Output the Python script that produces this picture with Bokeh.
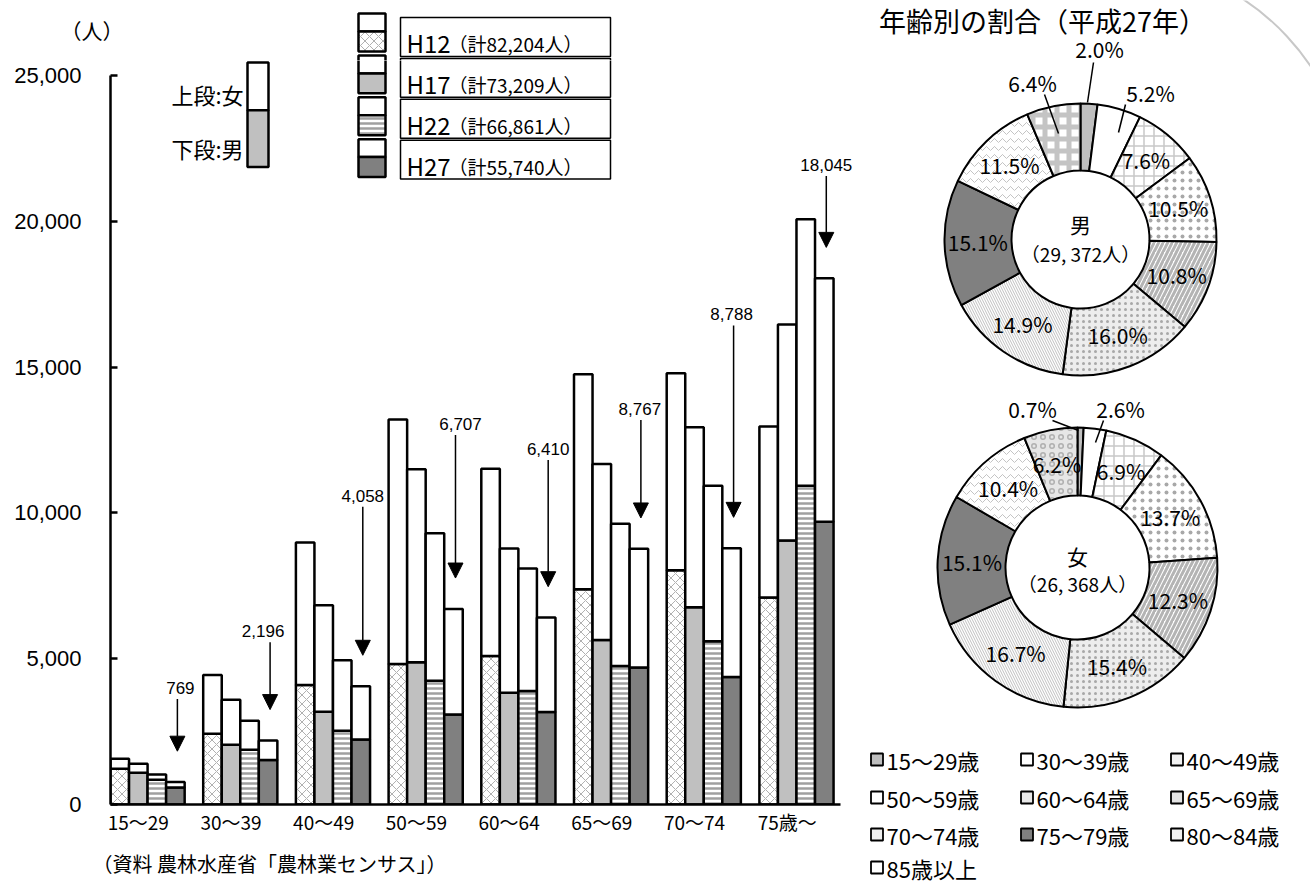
import math
from bokeh.plotting import figure
from bokeh.models import Range1d, FixedTicker, Arrow, NormalHead, NumeralTickFormatter, Title
from bokeh.layouts import row, column
from bokeh.core.properties import value
from bokeh.embed import file_html
from bokeh.resources import INLINE

# ---------------- data ----------------
groups = ["15～29", "30～39", "40～49", "50～59", "60～64", "65～69", "70～74", "75歳～"]
years = ["H12", "H17", "H22", "H27"]
year_totals = ["82,204", "73,209", "66,861", "55,740"]

h12_total = [1570, 4440, 8980, 13200, 11510, 14750, 14790, 12960]
h12_male = [1230, 2430, 4100, 4820, 5090, 7380, 8030, 7100]
h17_total = [1400, 3590, 6830, 11500, 8780, 11680, 12940, 16460]
h17_male = [1090, 2050, 3180, 4880, 3830, 5640, 6760, 9050]
h22_total = [1030, 2870, 4950, 9300, 8090, 9630, 10930, 20070]
h22_male = [850, 1880, 2530, 4240, 3890, 4750, 5600, 10930]
h27_total = [769, 2196, 4058, 6707, 6410, 8767, 8788, 18045]
h27_male = [587, 1527, 2232, 3084, 3172, 4700, 4376, 9693]

y_ticks = [0, 5000, 10000, 15000, 20000, 25000]
unit_label = "（人）"

ages = ["15～29歳", "30～39歳", "40～49歳", "50～59歳", "60～64歳",
        "65～69歳", "70～74歳", "75～79歳", "80～84歳", "85歳以上"]
male_pct = [2.0, 5.2, 7.6, 10.5, 10.8, 16.0, 14.9, 15.1, 11.5, 6.4]
female_pct = [0.7, 2.6, 6.9, 13.7, 12.3, 15.4, 16.7, 15.1, 10.4, 6.2]
male_center = ["男", "（29, 372人）"]
female_center = ["女", "（26, 368人）"]
source_text = "（資料 農林水産省「農林業センサス」）"

JP = "Noto Sans CJK JP"
LAT = "Liberation Sans"

# ---------------- geometry (page pixels) ----------------
PAGE_W, PAGE_H = 1310, 886
W1 = 858            # left block width
TOP_H = 60          # strip above the bar frame
OX, OY = 110, 807   # page position of the bar chart origin
GPX = 92.7          # pixels per group
PXV = 732 / 25000   # pixels per person


def dx(px):
    return (px - OX) / GPX


def dy(py):
    return (OY - py) / PXV


def ty(py):
    return -py


def plain(f):
    f.outline_line_color = None
    f.xgrid.visible = False
    f.ygrid.visible = False


# top strip: same horizontal frame as the bar chart
top = figure(width=W1, height=TOP_H, x_range=Range1d(0, dx(W1)), y_range=Range1d(-TOP_H, 0),
             output_backend="svg", toolbar_location=None, x_axis_location=None,
             min_border_left=OX, min_border_right=0, min_border_top=0, min_border_bottom=0)
plain(top)
ta = top.yaxis[0]
ta.ticker = FixedTicker(ticks=[ty(29)])
ta.major_label_overrides = {ty(29): unit_label}
ta.axis_line_color = None
ta.major_tick_in = 0
ta.major_tick_out = 0
ta.minor_tick_in = 0
ta.minor_tick_out = 0
ta.major_label_text_font = JP
ta.major_label_text_font_size = "21px"
ta.major_label_text_color = "black"
ta.major_label_standoff = -13

# ---------------- bar chart ----------------
H1 = PAGE_H - TOP_H
p = figure(width=W1, height=H1, x_range=Range1d(0, dx(W1)), y_range=Range1d(0, dy(TOP_H)),
           output_backend="svg", toolbar_location=None,
           min_border_left=OX, min_border_right=0, min_border_top=0, min_border_bottom=PAGE_H - OY)
plain(p)

ya = p.yaxis[0]
ya.ticker = FixedTicker(ticks=y_ticks)
ya.bounds = (0, 25000)
ya.formatter = NumeralTickFormatter(format="0,0")
ya.major_tick_in = 7
ya.major_tick_out = 0
ya.minor_tick_in = 0
ya.minor_tick_out = 0
ya.axis_line_width = 2.5
ya.major_tick_line_width = 2.5
ya.major_label_text_font = LAT
ya.major_label_text_font_size = "22px"
ya.major_label_text_color = "black"
ya.major_label_standoff = 29

xa = p.xaxis[0]
xticks = [i + 0.3 for i in range(len(groups))]
xa.ticker = FixedTicker(ticks=xticks)
xa.major_label_overrides = {t: g for t, g in zip(xticks, groups)}
xa.bounds = (0, dx(840))
xa.major_tick_in = 0
xa.major_tick_out = 0
xa.minor_tick_in = 0
xa.minor_tick_out = 0
xa.axis_line_width = 2.5
xa.major_label_text_font = JP
xa.major_label_text_font_size = "19px"
xa.major_label_text_color = "black"
xa.major_label_standoff = 3

p.add_layout(Title(text=source_text, align="left", offset=-18, standoff=18, text_font=JP,
                   text_font_size="20px", text_font_style="normal", text_color="black"), "below")

bw = 0.2
series = [
    (h12_male, h12_total, dict(fill_color="white", hatch_pattern="x", hatch_color="#b0b0b0", hatch_scale=9, hatch_weight=1)),
    (h17_male, h17_total, dict(fill_color="#c0c0c0")),
    (h22_male, h22_total, dict(fill_color="white", hatch_pattern="-", hatch_color="#a0a0a0", hatch_scale=5, hatch_weight=2.5)),
    (h27_male, h27_total, dict(fill_color="#808080")),
]
for j, (male, total, style) in enumerate(series):
    xs = [i + bw * (j + 0.5) for i in range(len(groups))]
    p.vbar(x=xs, width=bw, bottom=0, top=male, line_color="black", line_width=2.5, **style)
    p.vbar(x=xs, width=bw, bottom=male, top=total, fill_color="white", line_color="black", line_width=2.5)

# arrows with H27 totals
label_lift_px = [117, 174, 310, 382, 357, 397, 492, 642]
label_dx_px = [3, -7, 0, 5, 0, -1, -2, 0]
for i, t in enumerate(h27_total):
    ax = i + bw * 3.5 + 2 / GPX
    tip = t + 31 / PXV
    ly = label_lift_px[i] / PXV
    p.add_layout(Arrow(end=NormalHead(size=15, fill_color="black", line_color="black"),
                       x_start=ax, y_start=ly - 11 / PXV, x_end=ax, y_end=tip,
                       line_width=1.5, line_color="black"))
    p.text(x=[ax + label_dx_px[i] / GPX], y=[ly], text=[f"{t:,}"], text_align="center",
           text_baseline="middle", text_font=value(LAT), text_font_size=value("17px"), text_color="black")


# legend boxes, drawn in both the top strip and the bar frame (each clips its own part)
def legend_boxes(f, fy):
    for i in range(4):
        t0 = 13 + 42 * i
        split = t0 + 18
        b0 = t0 + 38
        f.quad(left=[dx(358)], right=[dx(385)], top=[fy(t0)], bottom=[fy(split)],
               fill_color="white", line_color="black", line_width=2.5)
        f.quad(left=[dx(358)], right=[dx(385)], top=[fy(split)], bottom=[fy(b0)],
               line_color="black", line_width=2.5, **series[i][2])
        bt = 17 + 41 * i
        f.quad(left=[dx(400)], right=[dx(610)], top=[fy(bt)], bottom=[fy(bt + 39)],
               fill_color="white", line_color="black", line_width=1.5)
    f.quad(left=[dx(247)], right=[dx(268)], top=[fy(62)], bottom=[fy(110)], fill_color="white",
           line_color="black", line_width=2.5)
    f.quad(left=[dx(247)], right=[dx(268)], top=[fy(110)], bottom=[fy(167)], fill_color="#c0c0c0",
           line_color="black", line_width=2.5)


legend_boxes(top, ty)
legend_boxes(p, dy)
for i in range(4):
    bt = 17 + 41 * i
    f, fy = (top, ty) if bt + 25 < TOP_H else (p, dy)
    f.text(x=[dx(406)], y=[fy(bt + 25)], text=[years[i]], text_align="left", text_baseline="middle",
           text_font=value(JP), text_font_size=value("24px"), text_color="black")
    f.text(x=[dx(448)], y=[fy(bt + 26)], text=[f"（計{year_totals[i]}人）"], text_align="left",
           text_baseline="middle", text_font=value(JP), text_font_size=value("19px"), text_color="black")

p.text(x=[dx(243), dx(243)], y=[dy(94), dy(148)], text=["上段:女", "下段:男"], text_align="right",
       text_baseline="middle", text_font=value(JP), text_font_size=value("22px"), text_color="black")

# ---------------- pies ----------------
W2 = PAGE_W - W1
q = figure(width=W2, height=PAGE_H, x_range=Range1d(W1, PAGE_W), y_range=Range1d(0, PAGE_H),
           output_backend="svg", toolbar_location=None, x_axis_location=None, y_axis_location=None,
           min_border_left=0, min_border_right=0, min_border_top=0, min_border_bottom=0)
plain(q)


def py(y):
    return PAGE_H - y


q.arc(x=[1110], y=[py(200)], radius=241, start_angle=0.3, end_angle=1.2, line_color="#c8c8c8", line_width=2)

q.text(x=[1042], y=[py(20)], text=["年齢別の割合（平成27年）"], text_align="center", text_baseline="middle",
       text_font=value(JP), text_font_size=value("27px"), text_color="black")

base_styles = [
    dict(fill_color="#bfbfbf"),
    dict(fill_color="white"),
    dict(fill_color="white", hatch_pattern="+", hatch_color="#c8c8c8", hatch_scale=10, hatch_weight=1.5),
    dict(fill_color="white", hatch_pattern=".", hatch_color="#a8a8a8", hatch_scale=8, hatch_weight=1),
    dict(fill_color="white", hatch_pattern="/", hatch_color="#b4b4b4", hatch_scale=9, hatch_weight=3),
    dict(fill_color="#ededed", hatch_pattern=".", hatch_color="#a8a8a8", hatch_scale=6, hatch_weight=1.5),
    dict(fill_color="white", hatch_pattern="\\", hatch_color="#c0c0c0", hatch_scale=5, hatch_weight=1),
    dict(fill_color="#808080"),
    dict(fill_color="white", hatch_pattern="v", hatch_color="#c4c4c4", hatch_scale=8, hatch_weight=1),
]
male_styles = base_styles + [dict(fill_color="white", hatch_pattern="+", hatch_color="#c4c4c4", hatch_scale=12, hatch_weight=5)]
female_styles = base_styles + [dict(fill_color="#e6e6e6", hatch_pattern="o", hatch_color="#b0b0b0", hatch_scale=9, hatch_weight=1.5)]


def draw_pie(cx, cyp, r_out, r_in, pcts, styles, center, outside, leaders, cy_offsets):
    cy = py(cyp)
    cum = 0.0
    for k, pct in enumerate(pcts):
        a0 = math.pi / 2 - 2 * math.pi * cum / 100
        a1 = math.pi / 2 - 2 * math.pi * (cum + pct) / 100
        q.annular_wedge(x=[cx], y=[cy], inner_radius=r_in, outer_radius=r_out, start_angle=a0, end_angle=a1,
                        direction="clock", line_color="black", line_width=2, **styles[k])
        if k in outside:
            lx, ly = outside[k][0], py(outside[k][1])
        else:
            mid = a0 + (a1 - a0) / 2
            rl = 0.755 * r_out
            lx, ly = cx + rl * math.cos(mid), cy + rl * math.sin(mid)
        q.text(x=[lx], y=[ly], text=[f"{pct:.1f}%"], text_align="center", text_baseline="middle",
               text_font=value(JP), text_font_size=value("21px"), text_color="black")
        cum += pct
    for (x1, y1), (x2, y2) in leaders:
        q.segment(x0=[x1], y0=[py(y1)], x1=[x2], y1=[py(y2)], line_color="black", line_width=1.5)
    q.text(x=[cx], y=[cy + cy_offsets[0]], text=[center[0]], text_align="center", text_baseline="middle",
           text_font=value(JP), text_font_size=value("21px"), text_color="black")
    q.text(x=[cx], y=[cy + cy_offsets[1]], text=[center[1]], text_align="center", text_baseline="middle",
           text_font=value(JP), text_font_size=value("19px"), text_color="black")


draw_pie(1080, 239, 136, 69, male_pct, male_styles, male_center,
         {0: (1099, 48), 1: (1150, 92), 9: (1032, 82)},
         [((1093, 62), (1087, 102)), ((1125, 104), (1118, 132)), ((1044, 94), (1058, 133))],
         (16, -14))
draw_pie(1077, 567, 140, 72, female_pct, female_styles, female_center,
         {0: (1032, 408), 1: (1120, 408)},
         [((1052, 420), (1078, 430)), ((1103, 420), (1095, 442))],
         (12, -16))

# legend for ages
leg_cols_x = [870, 1020, 1170]
leg_rows_y = [759, 797, 834, 867]
leg_fill = ["#bfbfbf", "white", "#f2f2f2", "white", "#e8e8e8", "#e4e4e4", "#eeeeee", "#808080", "#f0f0f0", "white"]
for k, age in enumerate(ages):
    r, c = divmod(k, 3)
    sx, sy = leg_cols_x[c], leg_rows_y[r]
    q.rect(x=[sx + 6.5], y=[py(sy)], width=12, height=12, fill_color=leg_fill[k], line_color="black", line_width=1.8)
    q.text(x=[sx + 16], y=[py(sy)], text=[age], text_align="left", text_baseline="middle",
           text_font=value(JP), text_font_size=value("22px"), text_color="black")

layout = row(column(top, p), q)
open("out.html", "w").write(file_html(layout, INLINE))
